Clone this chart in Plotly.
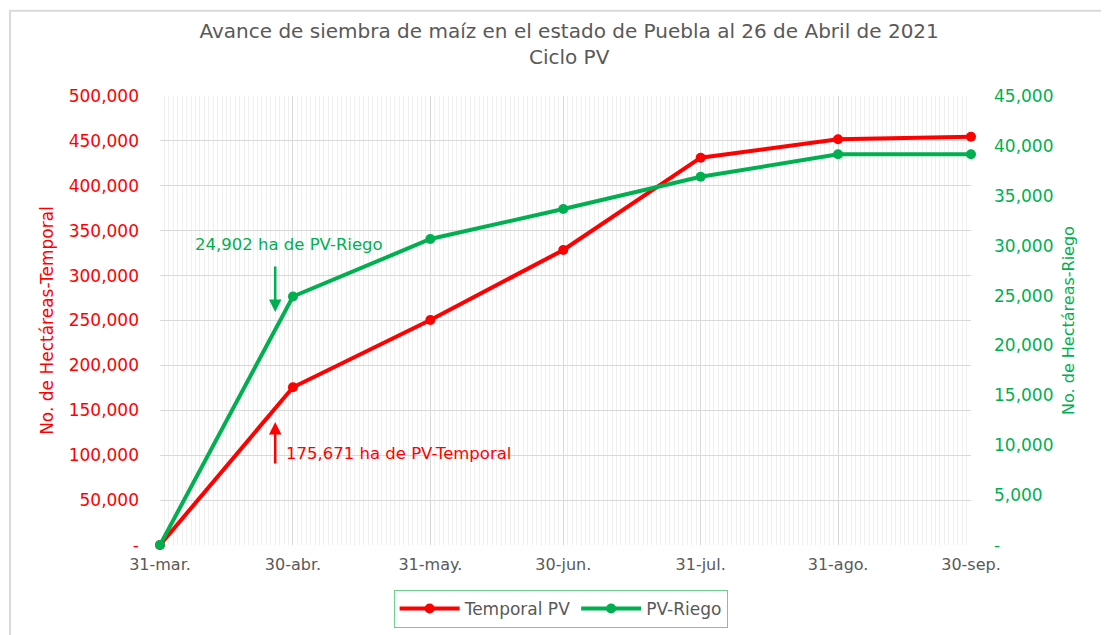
import plotly.graph_objects as go

dates = ["2021-03-31", "2021-04-30", "2021-05-31", "2021-06-30", "2021-07-31", "2021-08-31", "2021-09-30"]
tick_labels = ["31-mar.", "30-abr.", "31-may.", "30-jun.", "31-jul.", "31-ago.", "30-sep."]
temporal = [0, 175671, 250500, 328500, 431300, 451800, 454700]
riego = [0, 24902, 30670, 33680, 36900, 39160, 39160]

left_ticks = list(range(0, 500001, 50000))
left_text = ["-"] + [f"{v:,}" for v in left_ticks[1:]]
right_ticks = list(range(0, 45001, 5000))
right_text = ["-"] + [f"{v:,}" for v in right_ticks[1:]]

RED = "#FF0000"
GREEN = "#00B050"
FONT = "DejaVu Sans"
FS = 16

fig = go.Figure()
fig.add_trace(go.Scatter(x=dates, y=temporal, name="Temporal PV", mode="lines+markers",
                         line=dict(color=RED, width=4), marker=dict(size=10, color=RED),
                         cliponaxis=False, yaxis="y"))
fig.add_trace(go.Scatter(x=dates, y=riego, name="PV-Riego", mode="lines+markers",
                         line=dict(color=GREEN, width=4), marker=dict(size=10, color=GREEN),
                         cliponaxis=False, yaxis="y2"))

fig.update_layout(
    width=1109, height=635,
    margin=dict(l=152, r=146, t=88, b=98),
    paper_bgcolor="white", plot_bgcolor="white",
    font=dict(family=FONT, color="#595959", size=FS),
    title=dict(text="Avance de siembra de maíz en el estado de Puebla al 26 de Abril de 2021<br>Ciclo PV",
               x=0.506, xanchor="center", y=0.953, yanchor="top",
               font=dict(family=FONT, size=20, color="#595959")),
    xaxis=dict(type="date", range=["2021-03-31", "2021-09-30"],
               tickvals=dates, ticktext=tick_labels,
               showgrid=True, gridcolor="#d9d9d9", gridwidth=1,
               minor=dict(dtick=86400000, tick0="2021-03-31", showgrid=True, gridcolor="#efefef", gridwidth=1),
               showline=False, zeroline=False, ticks="",
               tickfont=dict(color="#595959", size=FS), ticklabelstandoff=8),
    yaxis=dict(range=[0, 500000], tickvals=left_ticks, ticktext=left_text,
               tickfont=dict(color=RED, size=17), showgrid=True, gridcolor="#d9d9d9",
               zeroline=False, showline=False, ticks="", ticklabelstandoff=20,
               title=dict(text="No. de Hectáreas-Temporal", font=dict(color=RED, size=17), standoff=10)),
    yaxis2=dict(range=[0, 45000], tickvals=right_ticks, ticktext=right_text, overlaying="y", side="right",
                tickfont=dict(color=GREEN, size=17), showgrid=False, zeroline=False, showline=False,
                ticks="", ticklabelstandoff=22,
                title=dict(text="No. de Hectáreas-Riego", font=dict(color=GREEN, size=FS), standoff=10)),
    legend=dict(orientation="h", x=0.494, xanchor="center", y=-0.1, yanchor="top",
                bordercolor="#6fcf8f", borderwidth=1, bgcolor="white",
                font=dict(size=17, color="#595959"), itemwidth=60),
    showlegend=True,
)

fig.add_annotation(x="2021-04-29", y=335189, text="24,902 ha de PV-Riego", showarrow=False,
                   font=dict(color=GREEN, size=16.5), xanchor="center", yanchor="middle")
fig.add_annotation(x="2021-04-26", y=259465, text="", showarrow=True, arrowhead=2, arrowsize=1,
                   arrowwidth=2.5, arrowcolor=GREEN, ax=0, ay=-47)
fig.add_annotation(x="2021-04-28", y=102450, text="175,671 ha de PV-Temporal", showarrow=False,
                   font=dict(color=RED, size=16.5), xanchor="left", yanchor="middle")
fig.add_annotation(x="2021-04-26", y=136971, text="", showarrow=True, arrowhead=2, arrowsize=1,
                   arrowwidth=2.5, arrowcolor=RED, ax=0, ay=43)

fig.add_shape(type="rect", xref="paper", yref="paper", x0=-0.185, x1=1.3, y0=-0.3, y1=1.19,
              line=dict(color="#d9d9d9", width=2), fillcolor="rgba(0,0,0,0)", layer="below")

fig.write_html("out.html")
